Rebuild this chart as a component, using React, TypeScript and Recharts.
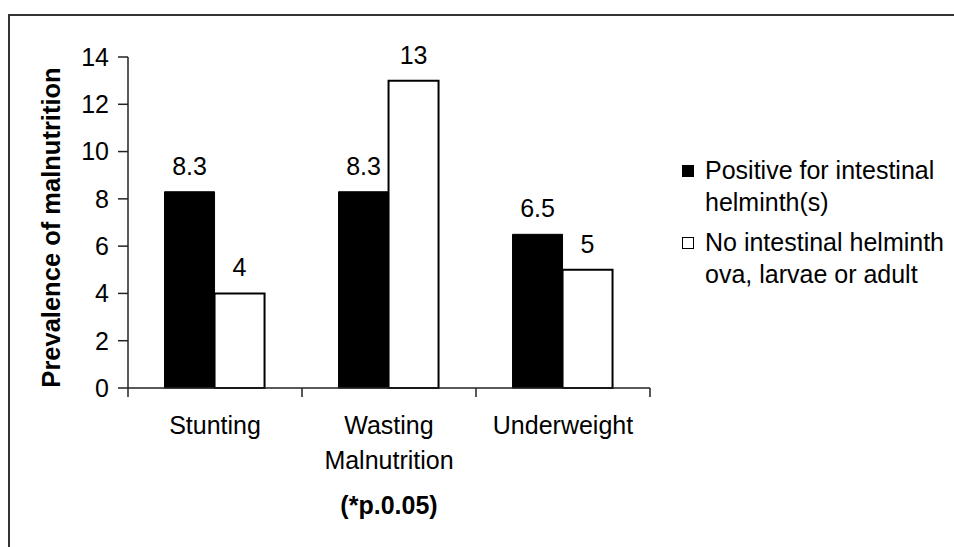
import React from 'react';
import { BarChart, Bar, XAxis, YAxis, Legend, LabelList, Label } from 'recharts';

// values
const categories = ['Stunting', 'Wasting\nMalnutrition', 'Underweight'];
const positiveValues = [8.3, 8.3, 6.5];
const negativeValues = [4, 13, 5];
const yTicks = [0, 2, 4, 6, 8, 10, 12, 14];
const seriesNames = ['Positive for intestinal\nhelminth(s)', 'No intestinal helminth\nova, larvae or adult'];
const yAxisTitle = 'Prevalence of malnutrition';
const xAxisNote = '(*p.0.05)';

const data = categories.map((name, i) => ({
    name,
    positive: positiveValues[i],
    negative: negativeValues[i],
}));

const FONT = '"Liberation Sans", Arial, sans-serif';
const AXIS = '#222';

// category label plus the boundary tick marks Excel draws between groups
const CategoryTick = (props: any) => {
    const { x, y, payload } = props;
    const half = payload.offset ?? 0;
    const idx = payload.index ?? props.index;
    const lines = String(payload.value).split('\n');
    return (
        <g>
            <line x1={x - half} x2={x - half} y1={y} y2={y + 9} stroke={AXIS} strokeWidth={1.5} />
            {idx === categories.length - 1 && (
                <line x1={x + half} x2={x + half} y1={y} y2={y + 9} stroke={AXIS} strokeWidth={1.5} />
            )}
            <text textAnchor="middle" fontFamily={FONT} fontSize={25} fill="#000">
                {lines.map((l, i) => (
                    <tspan key={i} x={x} y={y + 46 + i * 35}>{l}</tspan>
                ))}
            </text>
        </g>
    );
};

const YTitle = (props: any) => {
    const { viewBox } = props;
    const cx = viewBox.x + 51;
    const cy = viewBox.y + viewBox.height / 2 + 5;
    return (
        <text
            x={cx}
            y={cy}
            transform={`rotate(-90, ${cx}, ${cy})`}
            textAnchor="middle"
            dominantBaseline="central"
            fontFamily={FONT}
            fontSize={25.5}
            fontWeight="bold"
            fill="#000"
        >
            {yAxisTitle}
        </text>
    );
};

const renderLegend = (props: any) => {
    // keep the series order of the original figure
    const items = [...(props.payload || [])].sort(
        (a: any, b: any) => seriesNames.indexOf(a.value) - seriesNames.indexOf(b.value)
    );
    return (
        <div style={{ fontFamily: FONT, fontSize: 25, lineHeight: '32px', color: '#000' }}>
            {items.map((entry: any, i: number) => (
                <div key={i} style={{ display: 'flex', marginBottom: 8 }}>
                    <span
                        style={{
                            width: 12,
                            height: 12,
                            boxSizing: 'border-box',
                            background: entry.color,
                            border: '1.5px solid #000',
                            marginTop: 11,
                            marginRight: 11,
                            flex: 'none',
                        }}
                    />
                    <span style={{ whiteSpace: 'pre-line' }}>{entry.value}</span>
                </div>
            ))}
        </div>
    );
};

export default function App() {
    return (
        <div>
            <style>{'body{margin:0;overflow:hidden}'}</style>
            <div
                style={{
                    position: 'absolute',
                    left: 8,
                    top: 14,
                    width: 1000,
                    height: 600,
                    borderLeft: '2px solid #333',
                    borderTop: '2px solid #333',
                    boxSizing: 'border-box',
                }}
            />
            <div style={{ position: 'absolute', left: 0, top: 0 }}>
                <BarChart
                    width={954}
                    height={547}
                    data={data}
                    margin={{ top: 57, right: 304, left: 0, bottom: 29 }}
                    barCategoryGap="21%"
                    barGap={0}
                    style={{ fontFamily: FONT }}
                >
                    <XAxis
                        dataKey="name"
                        height={130}
                        tickSize={0}
                        tickMargin={0}
                        tickLine={false}
                        axisLine={{ stroke: AXIS, strokeWidth: 1.5 }}
                        tick={<CategoryTick />}
                        interval={0}
                    >
                        <Label
                            value={xAxisNote}
                            position="insideBottom"
                            offset={4}
                            fontFamily={FONT}
                            fontSize={25}
                            fontWeight="bold"
                            fill="#000"
                        />
                    </XAxis>
                    <YAxis
                        width={128}
                        domain={[0, 14]}
                        ticks={yTicks}
                        interval={0}
                        tickSize={10}
                        tickMargin={9}
                        axisLine={{ stroke: AXIS, strokeWidth: 1.5 }}
                        tickLine={{ stroke: AXIS, strokeWidth: 1.5 }}
                        tick={{ fill: '#000', fontSize: 25, fontFamily: FONT }}
                    >
                        <Label content={<YTitle />} />
                    </YAxis>
                    <Legend
                        layout="vertical"
                        align="center"
                        verticalAlign="middle"
                        content={renderLegend}
                        wrapperStyle={{ left: 682, top: 154, width: 272 }}
                    />
                    <Bar
                        dataKey="positive"
                        name={seriesNames[0]}
                        fill="#000"
                        stroke="#000"
                        strokeWidth={1}
                        isAnimationActive={false}
                    >
                        <LabelList dataKey="positive" position="top" offset={17} fill="#000" fontSize={25} fontFamily={FONT} />
                    </Bar>
                    <Bar
                        dataKey="negative"
                        name={seriesNames[1]}
                        fill="#fff"
                        stroke="#000"
                        strokeWidth={2}
                        isAnimationActive={false}
                    >
                        <LabelList dataKey="negative" position="top" offset={17} fill="#000" fontSize={25} fontFamily={FONT} />
                    </Bar>
                </BarChart>
            </div>
        </div>
    );
}
